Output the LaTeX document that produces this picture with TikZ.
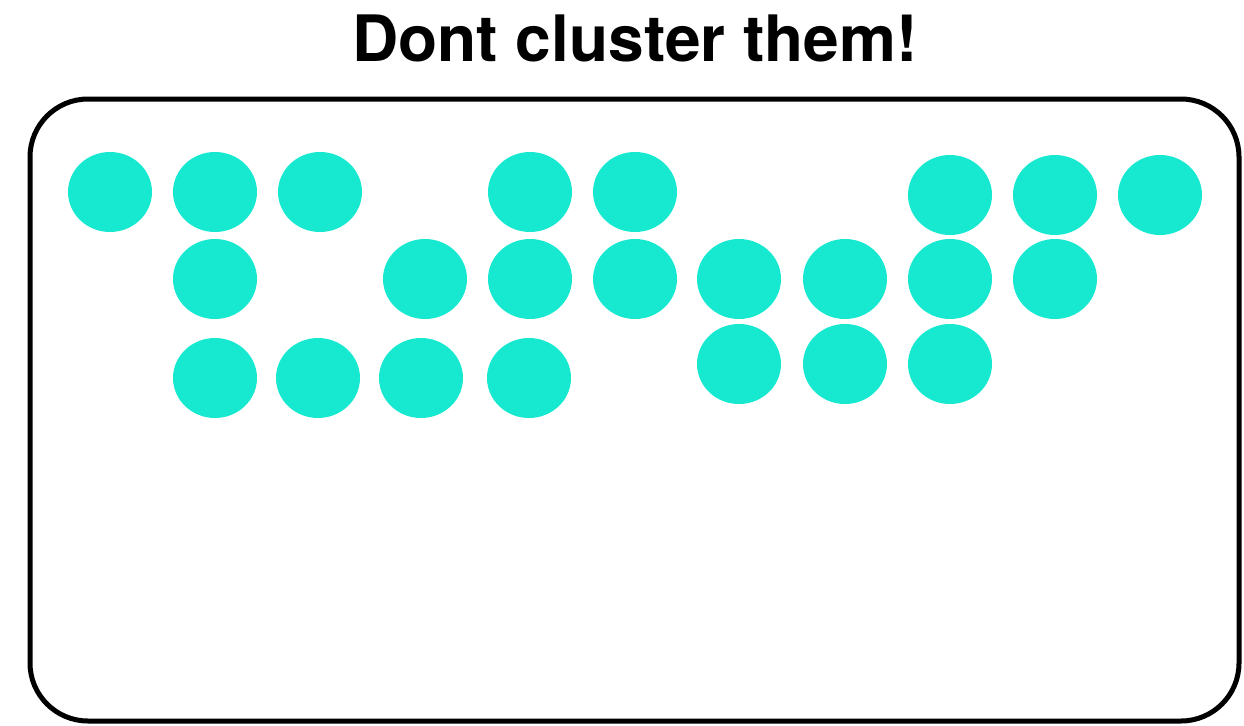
\documentclass[tikz,border=0pt]{standalone}
\usepackage{fontspec}
\setmainfont{TeX Gyre Heros}
\usetikzlibrary{shapes.geometric}
\definecolor{dotcol}{RGB}{23,232,208}
\tikzset{
  dot/.style={ellipse, fill=dotcol, draw=none, minimum width=84pt, minimum height=80pt, inner sep=0pt},
  frame/.style={draw=black, line width=5pt, rounded corners=58pt},
  titletext/.style={font=\fontsize{64}{76}\selectfont\bfseries, inner sep=0pt, anchor=base}
}
\begin{document}
\begin{tikzpicture}[x=1pt,y=-1pt]
\useasboundingbox (0,0) rectangle (1244,725);
\node[titletext] (title) at (635,62) {Dont cluster them!};
\draw[frame] (30,99) rectangle (1239,721);
% row 1
\node[dot] (a1) at (110,192) {};
\node[dot] (a2) at (215,192) {};
\node[dot] (a3) at (320,192) {};
\node[dot] (a4) at (530,192) {};
\node[dot] (a5) at (635,192) {};
\node[dot] (a6) at (950,195) {};
\node[dot] (a7) at (1055,195) {};
\node[dot] (a8) at (1160,195) {};
% row 2
\node[dot] (b1) at (215,279) {};
\node[dot] (b2) at (425,279) {};
\node[dot] (b3) at (530,279) {};
\node[dot] (b4) at (635,279) {};
\node[dot] (b5) at (739,279) {};
\node[dot] (b6) at (845,279) {};
\node[dot] (b7) at (950,279) {};
\node[dot] (b8) at (1055,279) {};
% row 3
\node[dot] (c1) at (215,378) {};
\node[dot] (c2) at (318,378) {};
\node[dot] (c3) at (421,378) {};
\node[dot] (c4) at (529,378) {};
\node[dot] (c5) at (739,364) {};
\node[dot] (c6) at (845,364) {};
\node[dot] (c7) at (950,364) {};
\end{tikzpicture}
\end{document}
